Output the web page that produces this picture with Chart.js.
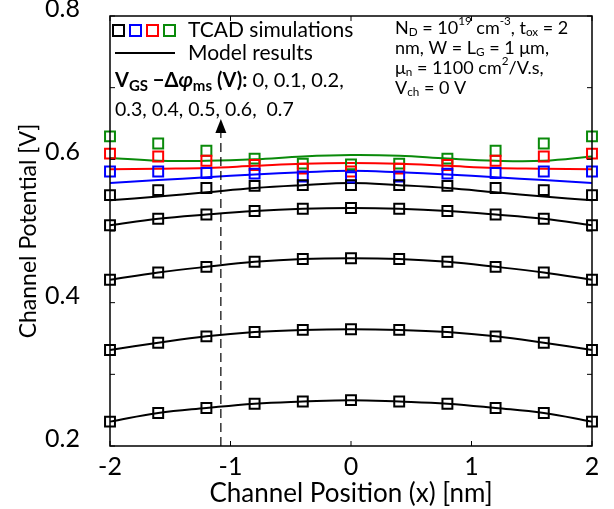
<!DOCTYPE html>
<html>
<head>
<meta charset="utf-8">
<script src="https://cdn.jsdelivr.net/npm/chart.js@4.4.0/dist/chart.umd.min.js"></script>
<style>
  html, body { margin: 0; padding: 0; background: #fff; }
  #wrap { width: 614px; height: 509px; }
</style>
</head>
<body>
<div id="wrap"><canvas id="potentialChart"></canvas></div>
<script>
// channel position (nm)
const xPos = [-2, -1.6, -1.2, -0.8, -0.4, 0, 0.4, 0.8, 1.2, 1.6, 2];
const xTicks = [-2, -1, 0, 1, 2];
const yTicks = [0.2, 0.4, 0.6, 0.8];

// TCAD simulations, one per VGS - dphi_ms value
const tcad00 = [0.234, 0.246, 0.253, 0.259, 0.262, 0.264, 0.262, 0.259, 0.253, 0.246, 0.234];
const tcad01 = [0.334, 0.344, 0.353, 0.359, 0.362, 0.363, 0.362, 0.359, 0.353, 0.344, 0.334];
const tcad02 = [0.432, 0.442, 0.450, 0.457, 0.461, 0.462, 0.461, 0.457, 0.450, 0.442, 0.432];
const tcad03 = [0.508, 0.517, 0.523, 0.528, 0.531, 0.532, 0.531, 0.528, 0.523, 0.517, 0.508];
const tcad04 = [0.550, 0.557, 0.560, 0.563, 0.564, 0.564, 0.564, 0.563, 0.560, 0.557, 0.550];
const tcad05 = [0.583, 0.583, 0.581, 0.580, 0.576, 0.575, 0.576, 0.580, 0.581, 0.583, 0.583];
const tcad06 = [0.608, 0.604, 0.598, 0.592, 0.587, 0.583, 0.587, 0.592, 0.598, 0.604, 0.608];
const tcad07 = [0.632, 0.622, 0.612, 0.601, 0.594, 0.593, 0.594, 0.601, 0.612, 0.622, 0.632];

// model results
const model00 = [0.234, 0.246, 0.253, 0.259, 0.262, 0.264, 0.262, 0.259, 0.253, 0.246, 0.234];
const model01 = [0.334, 0.344, 0.353, 0.359, 0.362, 0.363, 0.362, 0.359, 0.353, 0.344, 0.334];
const model02 = [0.432, 0.442, 0.450, 0.457, 0.461, 0.462, 0.461, 0.457, 0.450, 0.442, 0.432];
const model03 = [0.508, 0.517, 0.523, 0.528, 0.531, 0.532, 0.531, 0.528, 0.523, 0.517, 0.508];
const model04 = [0.543, 0.548, 0.554, 0.560, 0.564, 0.567, 0.564, 0.560, 0.554, 0.548, 0.543];
const model05 = [0.567, 0.571, 0.575, 0.579, 0.582, 0.584, 0.582, 0.579, 0.575, 0.571, 0.567];
const model06 = [0.586, 0.587, 0.588, 0.591, 0.594, 0.595, 0.594, 0.591, 0.588, 0.587, 0.586];
const model07 = [0.602, 0.598, 0.598, 0.600, 0.604, 0.606, 0.605, 0.601, 0.598, 0.598, 0.604];

const arrowX = -1.08;
const FONT = "Lato, 'Open Sans', sans-serif";
const GREEN = "#0a8a0a";

function pts(ys) {
    return xPos.map((x, i) => ({ x: x, y: ys[i] }));
}

function squares(ys, color) {
    return {
        data: pts(ys),
        showLine: false,
        pointStyle: "rect",
        pointRadius: 7,
        pointBorderWidth: 2,
        borderColor: color,
        pointBorderColor: color,
        pointBackgroundColor: "rgba(0,0,0,0)",
        clip: false,
    };
}

function modelLine(ys, color) {
    return {
        data: pts(ys),
        showLine: true,
        borderColor: color,
        borderWidth: 2,
        pointRadius: 0,
        tension: 0.4,
        fill: false,
        clip: false,
    };
}

// draws a run of text pieces with sub/superscripts
function richText(ctx, x, y, parts, size, subScale) {
    const k = subScale || 0.65;
    parts.forEach((p) => {
        const s = p.sub || p.sup ? size * k : size;
        const style = (p.italic ? "italic " : "") + (p.bold ? "bold " : "");
        ctx.font = style + s + "px " + FONT;
        let dy = 0;
        if (p.sub) dy = size * 0.25;
        if (p.sup) dy = -size * 0.35;
        ctx.fillText(p.t, x, y + dy);
        x += ctx.measureText(p.t).width;
    });
    return x;
}

const decorations = {
    id: "decorations",
    afterDraw(chart) {
        const ctx = chart.ctx;
        const a = chart.chartArea;
        const xs = chart.scales.x;
        const ys = chart.scales.y;
        ctx.save();

        // frame and inside ticks
        ctx.strokeStyle = "#000";
        ctx.lineWidth = 1.5;
        ctx.beginPath();
        ctx.rect(a.left, a.top, a.right - a.left, a.bottom - a.top);
        ctx.stroke();

        ctx.lineWidth = 1;
        ctx.beginPath();
        xTicks.forEach((v) => {
            const px = xs.getPixelForValue(v);
            ctx.moveTo(px, a.bottom);
            ctx.lineTo(px, a.bottom - 5);
            ctx.moveTo(px, a.top);
            ctx.lineTo(px, a.top + 5);
        });
        for (let k = 2; k <= 8; k++) {
            const py = ys.getPixelForValue(k / 10);
            ctx.moveTo(a.left, py);
            ctx.lineTo(a.left + 5, py);
            ctx.moveTo(a.right, py);
            ctx.lineTo(a.right - 5, py);
        }
        ctx.stroke();

        // legend
        const legendColors = ["#000", "#0000ff", "#ff0000", GREEN];
        ctx.lineWidth = 2;
        legendColors.forEach((c, i) => {
            ctx.strokeStyle = c;
            ctx.beginPath();
            ctx.rect(113 + i * 17, 25, 11, 11);
            ctx.stroke();
        });
        ctx.strokeStyle = "#000";
        ctx.beginPath();
        ctx.moveTo(115, 53);
        ctx.lineTo(175, 53);
        ctx.stroke();

        ctx.fillStyle = "#000";
        ctx.textBaseline = "middle";
        ctx.textAlign = "left";
        ctx.font = "21px " + FONT;
        ctx.fillText("TCAD simulations", 188, 30);
        ctx.fillText("Model results", 188, 53);

        // bias annotation
        const nx = richText(ctx, 115, 81, [
            { t: "V", bold: true },
            { t: "GS", bold: true, sub: true },
            { t: " \u2212\u0394", bold: true },
            { t: "\u03C6", bold: true, italic: true },
            { t: "ms", bold: true, sub: true },
            { t: " (V):", bold: true },
        ], 20, 0.75);
        richText(ctx, nx, 81, [{ t: " 0, 0.1, 0.2," }], 20);
        richText(ctx, 115, 110, [{ t: "0.3, 0.4, 0.5, 0.6,  0.7" }], 19.5);

        // device parameters
        const px0 = 395;
        richText(ctx, px0, 28, [
            { t: "N" }, { t: "D", sub: true }, { t: " = 10" }, { t: "19", sup: true },
            { t: " cm" }, { t: "-3", sup: true }, { t: ", t" }, { t: "ox", sub: true }, { t: " = 2" },
        ], 18);
        richText(ctx, px0, 48, [{ t: "nm, W = L" }, { t: "G", sub: true }, { t: " = 1 \u03BCm," }], 18);
        richText(ctx, px0, 68, [
            { t: "\u03BC" }, { t: "n", sub: true }, { t: " = 1100 cm" }, { t: "2", sup: true }, { t: "/V.s," },
        ], 18);
        richText(ctx, px0, 88, [{ t: "V" }, { t: "ch", sub: true }, { t: " = 0 V" }], 18);

        // dashed arrow
        const ax = xs.getPixelForValue(arrowX);
        ctx.strokeStyle = "#000";
        ctx.lineWidth = 1.2;
        ctx.setLineDash([9, 5]);
        ctx.beginPath();
        ctx.moveTo(ax, a.bottom);
        ctx.lineTo(ax, 130);
        ctx.stroke();
        ctx.setLineDash([]);
        ctx.beginPath();
        ctx.moveTo(ax, 119);
        ctx.lineTo(ax - 5.5, 133);
        ctx.lineTo(ax + 5.5, 133);
        ctx.closePath();
        ctx.fill();

        ctx.restore();
    },
};

const ctx = document.getElementById("potentialChart").getContext("2d");
const potentialChart = new Chart(ctx, {
    type: "scatter",
    data: {
        datasets: [
            squares(tcad00, "#000"),
            squares(tcad01, "#000"),
            squares(tcad02, "#000"),
            squares(tcad03, "#000"),
            squares(tcad04, "#000"),
            squares(tcad05, "#0000ff"),
            squares(tcad06, "#ff0000"),
            squares(tcad07, GREEN),
            modelLine(model00, "#000"),
            modelLine(model01, "#000"),
            modelLine(model02, "#000"),
            modelLine(model03, "#000"),
            modelLine(model04, "#000"),
            modelLine(model05, "#0000ff"),
            modelLine(model06, "#ff0000"),
            modelLine(model07, GREEN),
        ],
    },
    options: {
        responsive: true,
        maintainAspectRatio: false,
        animation: false,
        layout: {
            padding: { top: 16, right: 22, left: 0, bottom: 0 },
        },
        plugins: {
            legend: { display: false },
            tooltip: { enabled: false },
        },
        scales: {
            x: {
                type: "linear",
                min: -2,
                max: 2,
                grid: { display: false },
                border: { display: false },
                afterBuildTicks: (s) => {
                    s.ticks = xTicks.map((v) => ({ value: v }));
                },
                ticks: {
                    color: "#000",
                    padding: -2,
                    font: { family: FONT, size: 25 },
                    callback: (v) => String(v),
                },
                title: {
                    display: true,
                    text: "Channel Position (x) [nm]",
                    color: "#000",
                    font: { family: FONT, size: 26 },
                    padding: { top: 0, bottom: 0 },
                },
                afterFit: (s) => {
                    s.height = 63;
                    s.paddingLeft = 0;
                    s.paddingRight = 0;
                },
            },
            y: {
                min: 0.2,
                max: 0.8,
                grid: { display: false },
                border: { display: false },
                afterBuildTicks: (s) => {
                    s.ticks = yTicks.map((v) => ({ value: v }));
                },
                ticks: {
                    color: "#000",
                    padding: 22,
                    labelOffset: -7,
                    font: { family: FONT, size: 25 },
                    callback: (v) => v.toFixed(1),
                },
                title: {
                    display: true,
                    text: "Channel Potential [V]",
                    color: "#000",
                    font: { family: FONT, size: 23 },
                    padding: { top: 15, bottom: 0 },
                },
                afterFit: (s) => {
                    s.width = 110;
                    s.paddingTop = 0;
                    s.paddingBottom = 0;
                },
            },
        },
    },
    plugins: [decorations],
});
</script>
</body>
</html>
